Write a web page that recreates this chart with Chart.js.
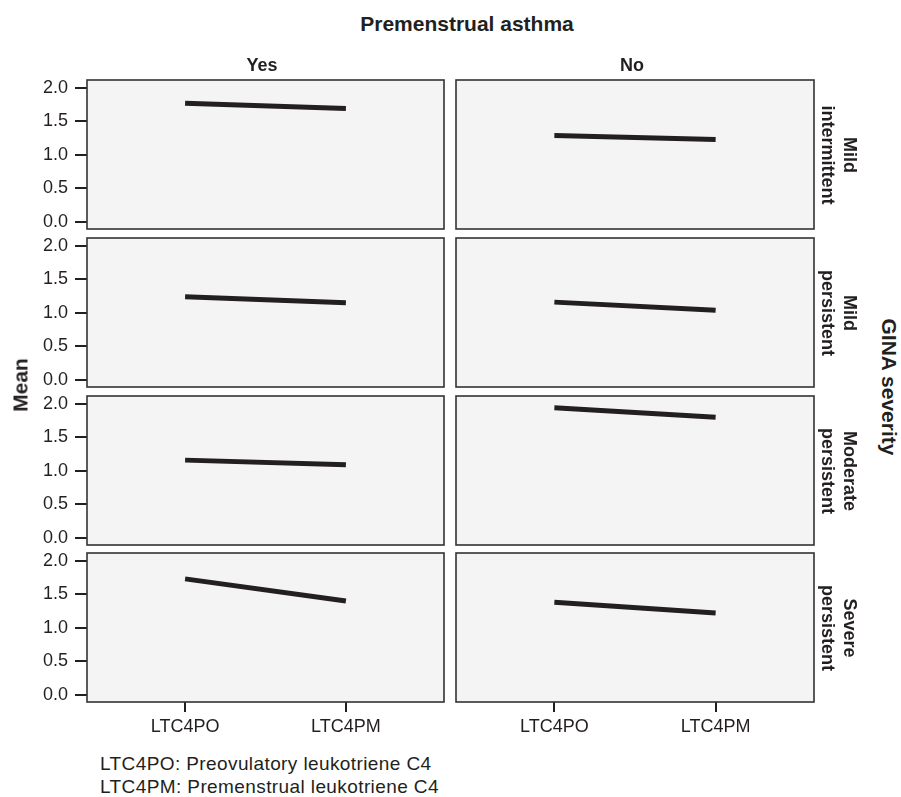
<!DOCTYPE html>
<html><head><meta charset="utf-8">
<script src="https://cdn.jsdelivr.net/npm/chart.js@4/dist/chart.umd.min.js"></script>
<style>
body{margin:0;background:#fff;width:901px;height:797px;position:relative;overflow:hidden;font-family:"Liberation Sans",Arial,sans-serif;color:#231f20}
canvas{position:absolute}
.t{position:absolute;white-space:nowrap;line-height:1}
.cc{transform:translate(-50%,-50%)}
.r90{transform:translate(-50%,-50%) rotate(90deg);text-align:center}
.rm90{transform:translate(-50%,-50%) rotate(-90deg)}
</style></head><body>
<script>
// ---- data ----
const categories = ['LTC4PO', 'LTC4PM'];
const columnLabels = ['Yes', 'No'];
const rowLabels = [['Mild', 'intermittent'], ['Mild', 'persistent'], ['Moderate', 'persistent'], ['Severe', 'persistent']];
const yesMeans = [[1.77, 1.69], [1.24, 1.15], [1.16, 1.09], [1.73, 1.40]];
const noMeans = [[1.29, 1.23], [1.16, 1.04], [1.94, 1.80], [1.38, 1.22]];
const yTicks = [0, 0.5, 1.0, 1.5, 2.0];
const titleText = 'Premenstrual asthma';
const rowTitle = 'GINA severity';
const yTitle = 'Mean';
const footnotes = ['LTC4PO: Preovulatory leukotriene C4', 'LTC4PM: Premenstrual leukotriene C4'];

// ---- layout ----
const FONT = '"Liberation Sans", Arial, sans-serif';
const INK = '#231f20';
Chart.defaults.font.family = FONT;
const panelTops = [80, 238, 396, 553];
const PANEL_H = 149;
const PAD = 22;
const X_AXIS_H = 44;
const colLeft = [0, 450];
const colWidth = [450, 370];

const panelBox = {
  id: 'panelBox',
  beforeDraw(chart) {
    const {ctx, chartArea: a} = chart;
    ctx.save();
    ctx.fillStyle = '#f3f4f3';
    ctx.fillRect(a.left, a.top, a.right - a.left, a.bottom - a.top);
    ctx.restore();
  },
  afterDraw(chart) {
    const {ctx, chartArea: a} = chart;
    ctx.save();
    ctx.strokeStyle = '#333333';
    ctx.lineWidth = 1.6;
    ctx.strokeRect(a.left, a.top, a.right - a.left, a.bottom - a.top);
    ctx.restore();
  }
};

function addText(txt, x, y, cls, style) {
  const d = document.createElement('div');
  d.className = 't ' + cls;
  d.style.left = x + 'px';
  d.style.top = y + 'px';
  Object.assign(d.style, style || {});
  d.innerHTML = txt;
  document.body.appendChild(d);
  return d;
}

function makePanel(ri, ci, vals) {
  const isLeft = ci === 0;
  const isBottom = ri === panelTops.length - 1;
  const cv = document.createElement('canvas');
  const w = colWidth[ci];
  const h = PAD + PANEL_H + (isBottom ? X_AXIS_H : PAD);
  cv.width = w; cv.height = h;
  cv.style.left = colLeft[ci] + 'px';
  cv.style.top = (panelTops[ri] - PAD) + 'px';
  cv.style.width = w + 'px'; cv.style.height = h + 'px';
  document.body.appendChild(cv);
  new Chart(cv, {
    type: 'line',
    data: {
      datasets: [{
        data: categories.map((c, i) => ({x: i, y: vals[i]})),
        borderColor: INK, borderWidth: 5, pointRadius: 0, fill: false, tension: 0,
        borderCapStyle: 'butt'
      }]
    },
    options: {
      responsive: false, animation: false, devicePixelRatio: 1,
      layout: {padding: {top: PAD, left: isLeft ? 0 : 6, right: 6, bottom: isBottom ? 0 : PAD}},
      plugins: {legend: {display: false}, tooltip: {enabled: false}},
      scales: {
        x: {
          type: 'linear', min: -0.61, max: 1.61, display: isBottom,
          afterBuildTicks: s => { s.ticks = categories.map((c, i) => ({value: i})); },
          ticks: {callback: v => categories[v], font: {size: 18}, color: INK, padding: 4, maxRotation: 0, autoSkip: false},
          grid: {display: true, drawOnChartArea: false, drawTicks: true, tickLength: 10, color: INK, lineWidth: 2},
          border: {display: false},
          afterFit: s => { s.height = isBottom ? X_AXIS_H : 0; }
        },
        y: {
          type: 'linear', min: -0.104, max: 2.115, display: isLeft,
          afterBuildTicks: s => { s.ticks = yTicks.map(v => ({value: v})); },
          ticks: {callback: v => Number(v).toFixed(1), font: {size: 18}, color: INK, padding: 7},
          grid: {display: true, drawOnChartArea: false, drawTicks: true, tickLength: 12, color: INK, lineWidth: 2},
          border: {display: false},
          afterFit: s => { s.width = isLeft ? 87 : 0; }
        }
      }
    },
    plugins: [panelBox]
  });
}

for (let r = 0; r < panelTops.length; r++) {
  makePanel(r, 0, yesMeans[r]);
  makePanel(r, 1, noMeans[r]);
}

// texts
addText(titleText, 467, 23, 'cc', {fontWeight: 'bold', fontSize: '21px'});
const colCenters = [262, 632];
columnLabels.forEach((t, i) => addText(t, colCenters[i], 65, 'cc', {fontWeight: 'bold', fontSize: '18px'}));
rowLabels.forEach((lines, r) => addText(lines.join('<br>'), 839, panelTops[r] + PANEL_H / 2, 'r90',
  {fontWeight: 'bold', fontSize: '18px', lineHeight: '22px'}));
addText(rowTitle, 889, 387, 'r90', {fontWeight: 'bold', fontSize: '21px'});
addText(yTitle, 20, 385, 'rm90', {fontWeight: 'bold', fontSize: '21px'});
addText(footnotes.join('<br>'), 100, 752, '', {fontSize: '19px', lineHeight: '23px', letterSpacing: '0.4px'});
</script>
</body></html>
